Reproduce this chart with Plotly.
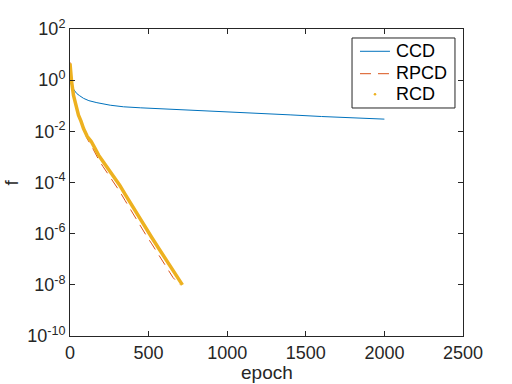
import plotly.graph_objects as go

# CCD (cyclic coordinate descent)
ccd_epoch = [0, 10, 25, 43, 60, 86, 120, 171, 256, 341, 450, 573, 700, 828,
             1000, 1210, 1400, 1600, 1800, 2000]
ccd_f = [1.0, 0.63, 0.42, 0.30, 0.25, 0.195, 0.158, 0.132, 0.105, 0.091, 0.083,
         0.077, 0.072, 0.066, 0.058, 0.050, 0.044, 0.038, 0.034, 0.030]

# RPCD (random permutation coordinate descent)
rpcd_epoch = [0, 5, 10, 22, 35, 54, 70, 86, 110, 135, 160, 182, 210, 241, 280,
              316, 350, 379, 410, 443, 486, 520, 571, 610, 656, 700]
rpcd_f = [5.0, 1.41, 0.79, 0.24, 0.112, 0.038, 0.0214, 0.0112, 5.0e-3, 2.8e-3,
          1.41e-3, 7.9e-4, 4.2e-4, 2.2e-4, 9.5e-5, 4.5e-5, 2.0e-5, 1.0e-5,
          5.0e-6, 2.4e-6, 8.3e-7, 4.0e-7, 1.26e-7, 5.6e-8, 1.9e-8, 1.0e-8]

# RCD (random coordinate descent)
rcd_epoch = [0, 5, 10, 22, 35, 54, 70, 86, 110, 135, 160, 182, 210, 241, 280,
             316, 350, 379, 410, 443, 486, 520, 571, 610, 656, 690, 715]
rcd_f = [4.5, 1.6, 0.9, 0.26, 0.126, 0.043, 0.025, 0.0129, 6.3e-3, 4.0e-3,
         2.1e-3, 1.17e-3, 6.6e-4, 3.6e-4, 1.6e-4, 7.9e-5, 3.5e-5, 1.8e-5,
         8.3e-6, 4.0e-6, 1.38e-6, 7.1e-7, 2.3e-7, 1.0e-7, 3.3e-8, 1.6e-8, 1.0e-8]

x_ticks = [0, 500, 1000, 1500, 2000, 2500]
y_exps = [-10, -8, -6, -4, -2, 0, 2]

font = "Liberation Sans, Helvetica, Arial, sans-serif"
ink = "#262626"
c_ccd, c_rpcd, c_rcd = "#0072BD", "#D95319", "#EDB120"
rpcd_dash = "11px,7px"

fig = go.Figure()
fig.add_trace(go.Scatter(x=ccd_epoch, y=ccd_f, name="CCD", mode="lines",
                         line=dict(color=c_ccd, width=1)))
fig.add_trace(go.Scatter(x=rpcd_epoch, y=rpcd_f, name="RPCD", mode="lines",
                         line=dict(color=c_rpcd, width=1, dash=rpcd_dash)))
fig.add_trace(go.Scatter(x=rcd_epoch, y=rcd_f, name="RCD", mode="lines",
                         line=dict(color=c_rcd, width=3.5)))

axis_common = dict(
    showline=True, linecolor=ink, linewidth=1, mirror="ticks",
    ticks="inside", ticklen=5, tickcolor=ink, tickwidth=1,
    showgrid=False, zeroline=False, automargin=False,
    tickfont=dict(family=font, size=18, color=ink),
)

fig.update_xaxes(range=[0, 2500], tickvals=x_ticks,
                 ticktext=[str(v) for v in x_ticks], **axis_common)
fig.update_yaxes(
    type="log", range=[-10, 2],
    tickvals=[10.0 ** e for e in y_exps],
    ticktext=[f"10<sup>{e}</sup>" for e in y_exps],
    **axis_common,
)

# axis titles as annotations so the plot box stays where MATLAB put it
fig.add_annotation(text="epoch", xref="paper", yref="paper", x=0.5, y=-0.118,
                   xanchor="center", yanchor="middle", showarrow=False,
                   font=dict(family=font, size=19, color=ink))
fig.add_annotation(text="f", xref="paper", yref="paper", x=-0.15, y=0.5,
                   xanchor="center", yanchor="middle", showarrow=False,
                   textangle=-90, font=dict(family=font, size=19, color=ink))

# MATLAB-style legend box (compact rows, like the original)
fig.add_shape(type="rect", xref="paper", yref="paper",
              x0=0.7176, x1=0.9796, y0=0.7427, y1=0.9707,
              line=dict(color=ink, width=1), fillcolor="white", layer="above")
fig.add_shape(type="line", xref="paper", yref="paper",
              x0=0.7379, x1=0.8142, y0=0.9274, y1=0.9274,
              line=dict(color=c_ccd, width=1), layer="above")
fig.add_shape(type="line", xref="paper", yref="paper",
              x0=0.7379, x1=0.8117, y0=0.8544, y1=0.8544,
              line=dict(color=c_rpcd, width=1, dash=rpcd_dash), layer="above")
fig.add_shape(type="circle", xref="paper", yref="paper",
              x0=0.7728, x1=0.7794, y0=0.7831, y1=0.7915,
              line=dict(color=c_rcd, width=0), fillcolor=c_rcd, layer="above")
for name, ly in [("CCD", 0.9283), ("RPCD", 0.8583), ("RCD", 0.7892)]:
    fig.add_annotation(text=name, xref="paper", yref="paper", x=0.8244, y=ly,
                       xanchor="left", yanchor="middle", showarrow=False,
                       font=dict(family=font, size=18, color="black"))

fig.update_layout(
    width=512, height=384,
    margin=dict(l=70, r=49, t=29, b=48, autoexpand=False),
    paper_bgcolor="white", plot_bgcolor="white",
    font=dict(family=font, color=ink),
    showlegend=False,
)

# drop the browser's default 8px body margin so the figure sits at (0, 0)
fig.write_html("out.html", config={"displayModeBar": False},
               post_script="document.body.style.margin='0';")
